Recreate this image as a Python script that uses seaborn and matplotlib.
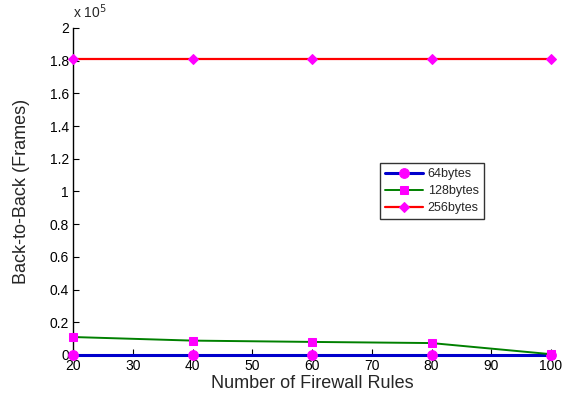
import matplotlib
matplotlib.use("Agg")
import matplotlib.pyplot as plt
import seaborn as sns
import pandas as pd
from matplotlib.ticker import FuncFormatter, MultipleLocator

rules = [20, 40, 60, 80, 100]
frames_64 = [0, 0, 0, 0, 0]
frames_128 = [11000, 8800, 8000, 7300, 500]
frames_256 = [181000, 181000, 181000, 181000, 181000]
series_names = ["64bytes", "128bytes", "256bytes"]

df = pd.DataFrame({
    "rules": rules * 3,
    "frames": frames_64 + frames_128 + frames_256,
    "size": sum([[n] * len(rules) for n in series_names], []),
})

sns.set_style("white")
plt.rcParams["font.family"] = ["Liberation Sans", "DejaVu Sans"]

fig = plt.figure(figsize=(5.67, 3.97), dpi=100)
ax = fig.add_axes([73 / 567, 42 / 397, 478 / 567, 327 / 397])

colors = {"64bytes": "#0000cc", "128bytes": "#008000", "256bytes": "#ff0000"}
markers = {"64bytes": "o", "128bytes": "s", "256bytes": "D"}
sizes = {"64bytes": 7, "128bytes": 5.5, "256bytes": 5}
widths = {"64bytes": 2.2, "128bytes": 1.4, "256bytes": 1.6}

for name in series_names:
    sub = df[df["size"] == name]
    sns.lineplot(data=sub, x="rules", y="frames", ax=ax, color=colors[name],
                 linewidth=widths[name], marker=markers[name],
                 markersize=sizes[name], markerfacecolor="#ff00ff",
                 markeredgecolor="#ff00ff", label=name, clip_on=False,
                 zorder=3)

ax.set_xlim(20, 100)
ax.set_ylim(0, 200000)
ax.xaxis.set_major_locator(MultipleLocator(10))
ax.yaxis.set_major_locator(MultipleLocator(20000))
ax.yaxis.set_major_formatter(FuncFormatter(lambda v, p: f"{v / 1e5:g}"))

for side in ["top", "right"]:
    ax.spines[side].set_visible(False)
for side in ["left", "bottom"]:
    ax.spines[side].set_color("black")
    ax.spines[side].set_linewidth(1.0)

ax.tick_params(axis="both", direction="in", length=4, width=0.8,
               labelsize=10, colors="black", pad=3)
ax.tick_params(left=True, bottom=True)

ax.set_xlabel("Number of Firewall Rules", fontsize=13, labelpad=1)
ax.set_ylabel("Back-to-Back (Frames)", fontsize=13, labelpad=14)

ax.text(0.0, 1.02, r"x 10$^{5}$", transform=ax.transAxes, fontsize=10,
        ha="left", va="bottom")

leg = ax.legend(loc="upper left", bbox_to_anchor=(301 / 478, 1 - 129 / 327),
                frameon=True, fancybox=False, edgecolor="black",
                fontsize=9, handlelength=3, borderpad=0.4, labelspacing=0.4,
                handletextpad=0.4)
leg.get_frame().set_linewidth(1.0)

fig.savefig("out.png", dpi=100)
